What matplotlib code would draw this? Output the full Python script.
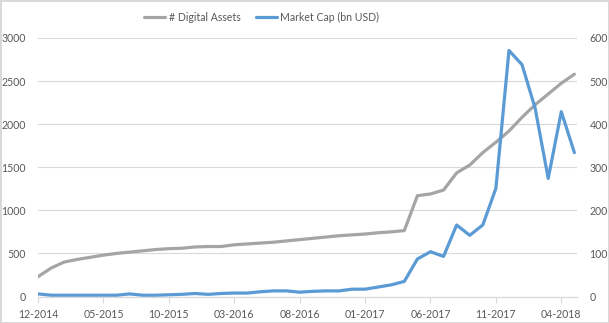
import matplotlib
matplotlib.use("Agg")
import matplotlib.pyplot as plt
import pandas as pd

# months, 12-2014 .. 05-2018
months = pd.date_range("2014-12-01", periods=42, freq="MS").strftime("%m-%Y").tolist()

digital_assets = [230, 330, 400, 430, 455, 480, 500, 515, 530, 545,
                  555, 560, 575, 580, 580, 600, 610, 620, 630, 645,
                  660, 675, 690, 705, 715, 725, 740, 750, 765, 1170,
                  1190, 1235, 1435, 1525, 1670, 1790, 1920, 2080, 2225, 2350,
                  2475, 2580]

market_cap = [6, 3, 3, 3, 3, 3, 3, 6, 3, 3,
              4, 5, 7, 5, 7, 8, 8, 11, 13, 13,
              10, 12, 13, 13, 17, 17, 22, 27, 35, 87,
              104, 93, 166, 142, 166, 251, 571, 538, 437, 274,
              429, 334]

plt.rcParams['font.family'] = ['Lato', 'DejaVu Sans']
txt = '#595959'
grid = '#D9D9D9'
fs = 7.6

fig = plt.figure(figsize=(6.09, 3.23), dpi=100)
fig.patch.set_facecolor('white')
fig.patch.set_edgecolor('#D9D9D9')
fig.patch.set_linewidth(1)

ax = fig.add_axes([38 / 609, 1 - 296.5 / 323, (577 - 38) / 609, (296.5 - 38) / 323])
ax2 = ax.twinx()

x = list(range(len(months)))
l1, = ax.plot(x, digital_assets, color='#A5A5A5', lw=2.3, solid_capstyle='round',
              label='# Digital Assets')
l2, = ax2.plot(x, market_cap, color='#5B9BD5', lw=2.3, solid_capstyle='round',
               label='Market Cap (bn USD)')

ax.set_ylim(0, 3000)
ax.set_yticks(range(0, 3001, 500))
ax2.set_ylim(0, 600)
ax2.set_yticks(range(0, 601, 100))
ax.set_xlim(0, 41.2)

ax.set_xticks(x[::5])
ax.set_xticklabels(months[::5])

ax.grid(axis='y', color=grid, lw=0.8)
ax.set_axisbelow(True)
for a in (ax, ax2):
    for s in ('top', 'left', 'right'):
        a.spines[s].set_visible(False)
    a.spines['bottom'].set_color(grid)
    a.spines['bottom'].set_linewidth(0.8)
ax.tick_params(axis='x', colors=grid, labelcolor=txt, labelsize=fs, length=4, pad=5)
ax.tick_params(axis='y', length=0, labelcolor=txt, labelsize=fs, pad=9)
ax2.tick_params(axis='y', length=0, labelcolor=txt, labelsize=fs, pad=9)

fig.legend(handles=[l1, l2], loc='center', bbox_to_anchor=(0.43, 1 - 17 / 323),
           ncol=2, frameon=False, fontsize=fs, labelcolor=txt,
           handlelength=2.0, handletextpad=0.3, columnspacing=1.5)

fig.savefig('out.png', dpi=100)
